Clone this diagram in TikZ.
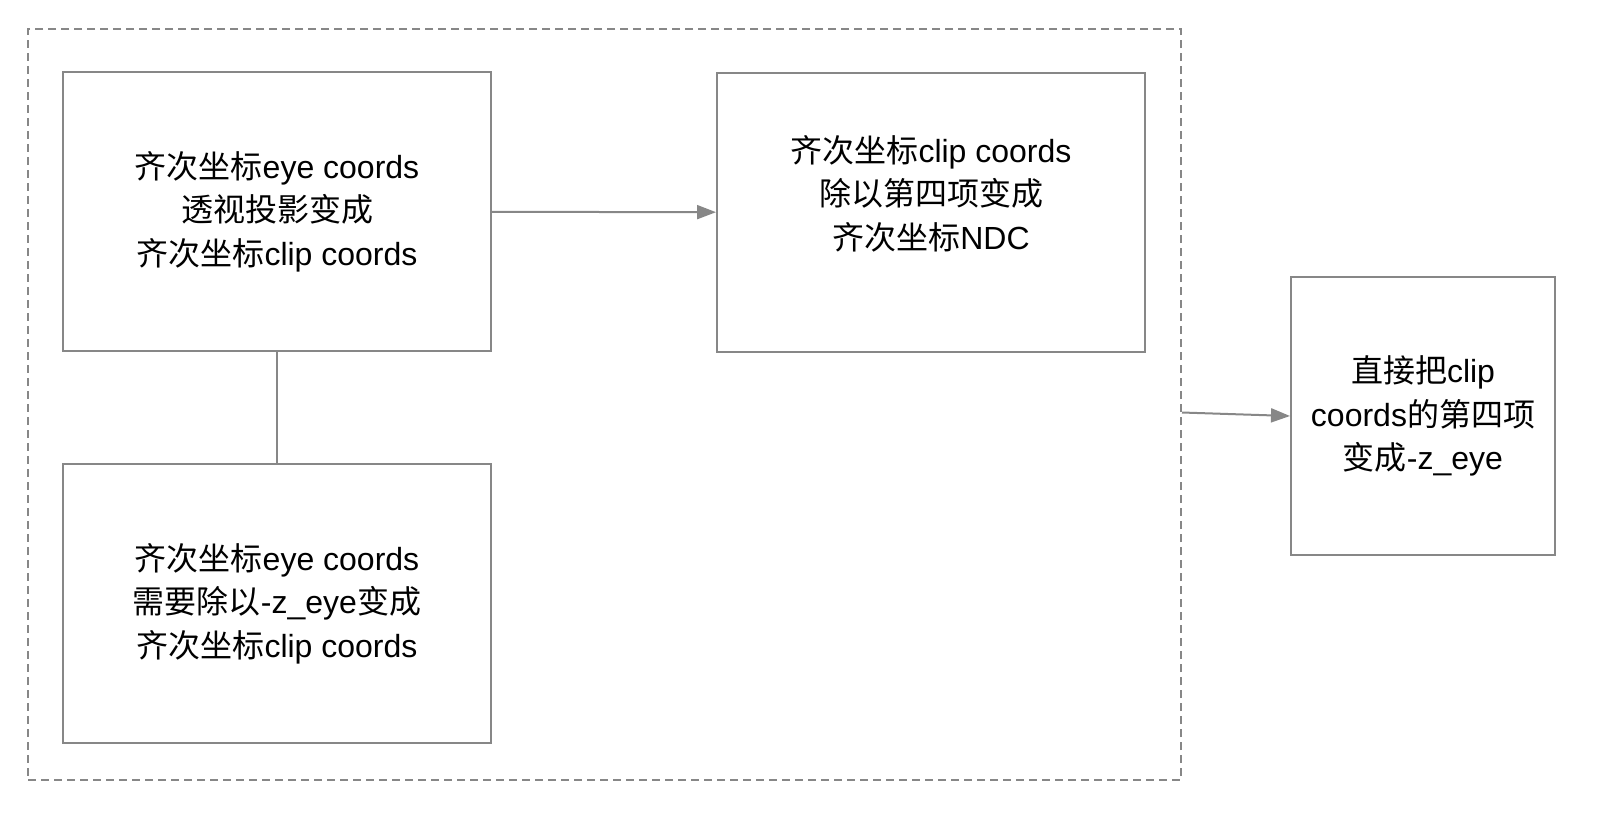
\documentclass[tikz,border=0pt]{standalone}
\usepackage{fontspec}
\setmainfont{Liberation Sans}
\newfontfamily\cjk{Noto Sans CJK SC}
\usetikzlibrary{arrows.meta}
\definecolor{edgegray}{HTML}{878787}

\begin{document}
\begin{tikzpicture}[
        x=1pt, y=-1pt,
        every node/.style={draw=edgegray, line width=2pt, text centered, align=center,
            font=\fontsize{32pt}{43.5pt}\selectfont, inner sep=0pt},
        stage/.style={rectangle, minimum width=428pt, minimum height=279pt},
        side/.style={rectangle, minimum width=264pt, minimum height=278pt},
        group/.style={draw=edgegray, dash pattern=on 8pt off 5pt, minimum width=1153pt, minimum height=751pt},
        link/.style={draw=edgegray, line width=2pt},
        flow/.style={link, -{Triangle[length=19pt, width=14pt]}},
    ]
    \useasboundingbox (0,0) rectangle (1602,812);

    \node[group](frame) at (604.5,404.5){};
    \node[stage](eyeclip) at (277,211.5){{\cjk 齐次坐标}eye coords\\{\cjk 透视投影变成}\\{\cjk 齐次坐标}clip coords};
    \node[stage, label={[draw=none, yshift=19pt, align=center]center:{\cjk 齐次坐标}clip coords\\{\cjk 除以第四项变成}\\{\cjk 齐次坐标}NDC}](clipndc) at (931,212.5){};
    \node[stage](divz) at (277,603.5){{\cjk 齐次坐标}eye coords\\{\cjk 需要除以}-z\_eye{\cjk 变成}\\{\cjk 齐次坐标}clip coords};
    \node[side](fourth) at (1423,416){{\cjk 直接把}clip\\coords{\cjk 的第四项}\\{\cjk 变成}-z\_eye};

    \draw[flow] (eyeclip) -- (clipndc);
    \draw[link] (eyeclip) -- (divz);
    \draw[flow] ([yshift=-8pt]frame.east) -- (fourth.west);

    \end{tikzpicture}
\end{document}
